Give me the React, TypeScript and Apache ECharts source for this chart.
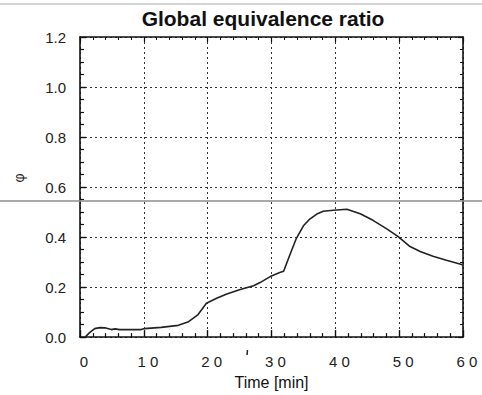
import React, { useEffect, useRef } from "react";
import * as echarts from "echarts";

const titleText = "Global equivalence ratio";
const xName = "Time [min]";
const yName = "φ";

const times = [
  0.8, 1.5, 2.3, 3.1, 3.9, 4.9, 5.5, 6.2, 8, 9.6, 10.1, 12.7, 15.4, 16.9, 18.5, 19.8, 21.4, 23, 25.1,
  26.5, 27.2, 28.2, 29.8, 31.3, 31.9, 32.9, 33.9, 35, 36, 37.1, 38.1, 39.7, 41.8, 43.9, 45.9, 48,
  49.9, 51.7, 53.3, 55.3, 57.4, 59.5, 60,
];
const phi = [
  0.0, 0.018, 0.034, 0.038, 0.037, 0.03, 0.033, 0.03, 0.03, 0.03, 0.034, 0.039, 0.047, 0.06, 0.09,
  0.135, 0.155, 0.172, 0.19, 0.2, 0.205, 0.218, 0.242, 0.258, 0.263, 0.33, 0.395, 0.445, 0.472,
  0.492, 0.503, 0.507, 0.511, 0.493, 0.467, 0.434, 0.401, 0.362, 0.342, 0.323, 0.307, 0.292, 0.288,
];

const FONT = "'Liberation Sans', Arial, Helvetica, sans-serif";

export default function App() {
  const ref = useRef<HTMLDivElement>(null);
  useEffect(() => {
    if (!ref.current) return;
    const chart = echarts.init(ref.current, null, { renderer: "svg" });
    const data = times.map((t, i) => [t, phi[i]]);
    const axisLine = { show: true, onZero: false, lineStyle: { color: "#111", width: 1.6 } };
    chart.setOption({
      animation: false,
      backgroundColor: "#fff",
      title: {
        text: titleText,
        left: 263,
        top: 8,
        textAlign: "center",
        padding: 0,
        textStyle: { fontFamily: FONT, fontSize: 21, fontWeight: "bold", color: "#111" },
      },
      grid: { left: 80, right: 19, top: 37, bottom: 53, containLabel: false },
      xAxis: [
        {
          type: "value",
          min: 0,
          max: 60,
          interval: 10,
          position: "bottom",
          name: xName,
          nameLocation: "middle",
          nameGap: 33,
          nameTextStyle: { fontFamily: FONT, fontSize: 16, color: "#111" },
          axisLine,
          axisTick: { show: true, inside: true, length: 7, lineStyle: { color: "#111", width: 1.4 } },
          minorTick: { show: true, splitNumber: 5, length: 4, lineStyle: { color: "#111", width: 1.2 } },
          axisLabel: {
            fontFamily: FONT,
            fontSize: 15,
            color: "#222",
            margin: 17,
            padding: [0, 0, 0, 8],
            formatter: (v: number) => String(v).split("").join(" "),
          },
          splitLine: { show: true, lineStyle: { color: "#333", type: [2, 3], width: 1 } },
        },
        {
          type: "value",
          min: 0,
          max: 60,
          interval: 10,
          position: "top",
          axisLine,
          axisTick: { show: true, inside: true, length: 5, lineStyle: { color: "#111", width: 1.2 } },
          minorTick: { show: true, splitNumber: 5, length: 3, lineStyle: { color: "#111", width: 1 } },
          axisLabel: { show: false },
          splitLine: { show: false },
        },
      ],
      yAxis: [
        {
          type: "value",
          min: 0,
          max: 1.2,
          interval: 0.2,
          position: "left",
          name: yName,
          nameLocation: "middle",
          nameRotate: 90,
          nameGap: 54,
          nameTextStyle: {
            fontFamily: FONT,
            fontSize: 14,
            color: "#222",
            padding: [0, 0, 0, 18],
          },
          axisLine,
          axisTick: { show: true, inside: true, length: 6, lineStyle: { color: "#111", width: 1.4 } },
          minorTick: { show: true, splitNumber: 4, length: 4, lineStyle: { color: "#111", width: 1.2 } },
          axisLabel: {
            fontFamily: FONT,
            fontSize: 15,
            color: "#222",
            margin: 14,
            formatter: (v: number) => v.toFixed(1),
          },
          splitLine: { show: true, lineStyle: { color: "#333", type: [2, 3], width: 1 } },
        },
        {
          type: "value",
          min: 0,
          max: 1.2,
          interval: 0.2,
          position: "right",
          axisLine,
          axisTick: { show: true, inside: true, length: 5, lineStyle: { color: "#111", width: 1.2 } },
          minorTick: { show: true, splitNumber: 4, length: 3, lineStyle: { color: "#111", width: 1 } },
          axisLabel: { show: false },
          splitLine: { show: false },
        },
      ],
      series: [
        {
          type: "line",
          data,
          xAxisIndex: 0,
          yAxisIndex: 0,
          showSymbol: false,
          symbol: "none",
          lineStyle: { color: "#222", width: 1.6 },
        },
      ],
      graphic: [
        {
          type: "line",
          z: 100,
          shape: { x1: 0, y1: 201, x2: 482, y2: 201 },
          style: { stroke: "#8c8c8c", lineWidth: 1.6 },
        },
        {
          type: "line",
          z: 100,
          shape: { x1: 0, y1: 4, x2: 482, y2: 4 },
          style: { stroke: "#d4d4d4", lineWidth: 2 },
        },
        {
          type: "line",
          z: 100,
          shape: { x1: 247.5, y1: 350, x2: 247, y2: 355 },
          style: { stroke: "#222", lineWidth: 1.5 },
        },
      ],
    });
    return () => chart.dispose();
  }, []);
  return (
    <div
      ref={ref}
      style={{ position: "fixed", left: 0, top: 0, width: 482, height: 395 }}
    />
  );
}
